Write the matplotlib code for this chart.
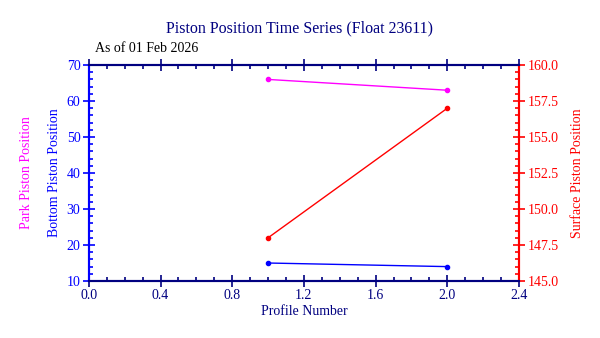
import matplotlib
matplotlib.use("Agg")
import matplotlib.pyplot as plt
from matplotlib.ticker import MultipleLocator, FormatStrFormatter

profiles = [1, 2]
park = [66, 63]
bottom = [15, 14]
surface = [148, 157]

NAVY = "#000080"
BLUE = "#0000FF"
MAG = "#FF00FF"
RED = "#FF0000"

plt.rcParams['font.family'] = ['Liberation Serif', 'DejaVu Serif']
fs = 10

fig = plt.figure(figsize=(6, 3.38), dpi=100)
ax = fig.add_axes([0.148, 0.1686, 0.717, 0.639])
ax2 = ax.twinx()

ax.plot(profiles, park, color=MAG, lw=1, marker='o', ms=3)
ax.plot(profiles, bottom, color=BLUE, lw=1, marker='o', ms=3)
ax2.plot(profiles, surface, color=RED, lw=1, marker='o', ms=3)

ax.set_xlim(0, 2.4)
ax.set_ylim(10, 70)
ax2.set_ylim(145, 160)

ax.xaxis.set_major_locator(MultipleLocator(0.4))
ax.xaxis.set_minor_locator(MultipleLocator(0.1))
ax.xaxis.set_major_formatter(FormatStrFormatter('%.1f'))
ax.yaxis.set_major_locator(MultipleLocator(10))
ax.yaxis.set_minor_locator(MultipleLocator(2))
ax2.yaxis.set_major_locator(MultipleLocator(2.5))
ax2.yaxis.set_minor_locator(MultipleLocator(0.5))
ax2.yaxis.set_major_formatter(FormatStrFormatter('%.1f'))

for a in (ax, ax2):
    for s in a.spines.values():
        s.set_linewidth(1.5)
    a.spines['top'].set_color(NAVY)
    a.spines['bottom'].set_color(NAVY)
    a.spines['left'].set_color(BLUE)
    a.spines['right'].set_color(RED)

ax.tick_params(axis='x', which='major', direction='inout', length=8, width=1.2,
               colors=NAVY, labelsize=fs, top=True, pad=2)
ax.tick_params(axis='x', which='minor', direction='in', length=3, width=1.2,
               colors=NAVY, top=True)
ax.tick_params(axis='y', which='major', direction='inout', length=8, width=1.2,
               colors=BLUE, labelsize=fs, pad=2)
ax.tick_params(axis='y', which='minor', direction='in', length=3, width=1.2, colors=BLUE)
ax2.tick_params(axis='y', which='major', direction='inout', length=8, width=1.2,
                colors=RED, labelsize=fs, pad=2)
ax2.tick_params(axis='y', which='minor', direction='in', length=3, width=1.2, colors=RED)

ax.set_xlabel("Profile Number", color=NAVY, fontsize=fs, labelpad=2)
ax.set_ylabel("Bottom Piston Position", color=BLUE, fontsize=fs, labelpad=4)
ax2.set_ylabel("Surface Piston Position", color=RED, fontsize=fs, labelpad=9)
fig.text(27/600, 1 - 173/338, "Park Piston Position", color=MAG, fontsize=fs,
         rotation=90, ha='center', va='center')

fig.text(0.5, 1 - 28/338, "Piston Position Time Series (Float 23611)", color=NAVY,
         fontsize=fs + 1.5, ha='center', va='center')
fig.text(95/600, 1 - 48/338, "As of 01 Feb 2026", color='black', fontsize=fs,
         ha='left', va='center')

fig.savefig("out.png", dpi=100)
